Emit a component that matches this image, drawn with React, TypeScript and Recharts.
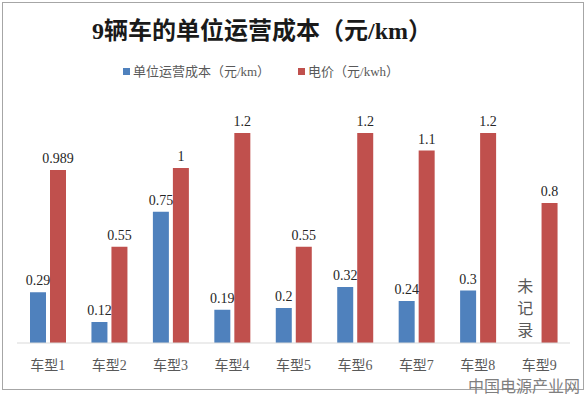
import { BarChart, Bar, XAxis, YAxis, LabelList, ReferenceDot } from 'recharts';

const categories = ['车型1', '车型2', '车型3', '车型4', '车型5', '车型6', '车型7', '车型8', '车型9'];
const costPerKm: (number | null)[] = [0.29, 0.12, 0.75, 0.19, 0.2, 0.32, 0.24, 0.3, null];
const electricityPrice = [0.989, 0.55, 1, 1.2, 0.55, 1.2, 1.1, 1.2, 0.8];
const notes = ['', '', '', '', '', '', '', '', '未记录'];
const noteY = 0.29;

const BLUE = '#4F81BD';
const RED = '#C0504D';
const FONT = '"Liberation Serif", "Noto Sans CJK SC", serif';

const data = categories.map((name, i) => ({
  name,
  cost: costPerKm[i],
  price: electricityPrice[i],
}));

function VerticalNote({ cx, cy, text }: { cx?: number; cy?: number; text: string }) {
  if (cx == null || cy == null) return null;
  const x = cx - 14;
  return (
    <text x={x} y={cy} textAnchor="middle" fontSize={16} fill="#595959" fontFamily={FONT}>
      {text.split('').map((ch, i) => (
        <tspan key={i} x={x} dy={i === 0 ? 0 : 22}>{ch}</tspan>
      ))}
    </text>
  );
}

function LegendItem({ color, label }: { color: string; label: string }) {
  return (
    <span style={{ display: 'inline-flex', alignItems: 'center', margin: '0 14px' }}>
      <span style={{ width: 7, height: 7, background: color, marginRight: 3, display: 'inline-block' }} />
      <span>{label}</span>
    </span>
  );
}

export default function App() {
  return (
    <div style={{ position: 'absolute', left: 0, top: 0, width: 586, height: 394, background: '#fff', fontFamily: FONT }}>
      <div style={{ position: 'absolute', left: 2, top: 2, width: 580, height: 386, border: '1px solid #a6a6a6' }} />
      <div style={{ position: 'absolute', left: 0, top: 16, width: 524, textAlign: 'center', fontSize: 24, fontWeight: 'bold', color: '#1a1a1a', lineHeight: '30px' }}>
        9辆车的单位运营成本（元/km）
      </div>
      <div style={{ position: 'absolute', left: 0, top: 62, width: 522, textAlign: 'center', fontSize: 13, color: '#595959', lineHeight: '18px' }}>
        <LegendItem color={BLUE} label="单位运营成本（元/km）" />
        <LegendItem color={RED} label="电价（元/kwh）" />
      </div>
      <BarChart width={586} height={394} data={data} margin={{ top: 98, right: 16, bottom: 21, left: 17 }} barSize={16} barGap={4}>
        <XAxis dataKey="name" axisLine={{ stroke: '#d9d9d9' }} tickLine={false} tickMargin={11} height={30}
          tick={{ fontSize: 14, fill: '#595959', fontFamily: FONT }} interval={0} />
        <YAxis hide domain={[0, 1.4]} />
        <Bar dataKey="cost" fill={BLUE} isAnimationActive={false}>
          <LabelList dataKey="cost" position="top" offset={7} fontSize={14} fill="#262626" fontFamily={FONT} />
        </Bar>
        <Bar dataKey="price" fill={RED} isAnimationActive={false}>
          <LabelList dataKey="price" position="top" offset={7} fontSize={14} fill="#262626" fontFamily={FONT} />
        </Bar>
        {notes.map((note, i) =>
          note ? (
            <ReferenceDot key={i} x={categories[i]} y={noteY} ifOverflow="visible"
              shape={(p: any) => <VerticalNote cx={p.cx} cy={p.cy} text={note} />} />
          ) : null
        )}
      </BarChart>
      <div style={{ position: 'absolute', left: 468, top: 377, fontSize: 16, color: '#7f7f7f', fontFamily: '"Noto Sans CJK SC", sans-serif', lineHeight: '16px', whiteSpace: 'nowrap' }}>
        中国电源产业网
      </div>
    </div>
  );
}
